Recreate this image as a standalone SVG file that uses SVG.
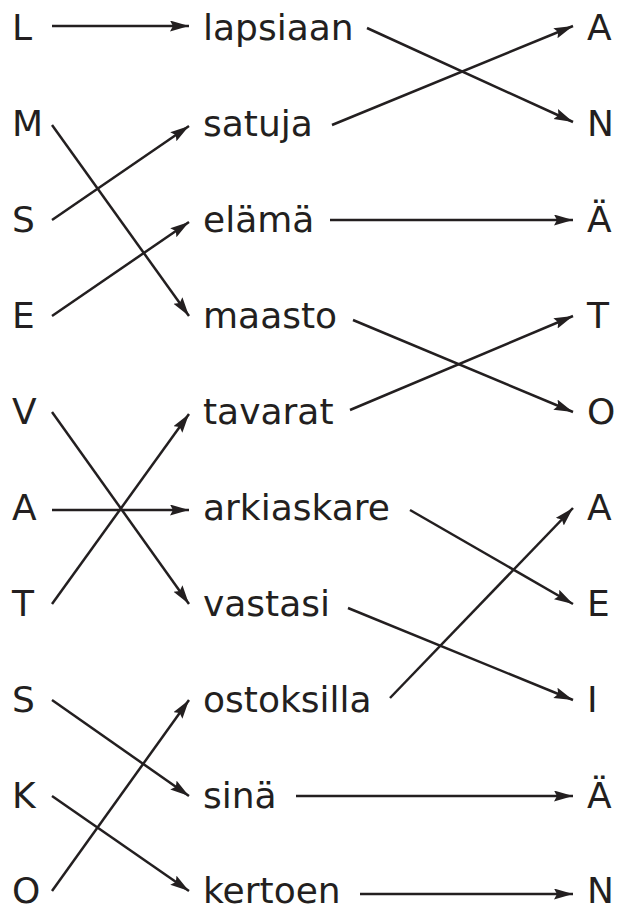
<svg xmlns="http://www.w3.org/2000/svg" width="617" height="910" viewBox="0 0 617 910">
<style>
text{font-family:"DejaVu Sans","Verdana",sans-serif;font-size:36px;fill:#231f20}
.c line{stroke:#231f20;stroke-width:2.5;marker-end:url(#ah)}
</style>
<defs>
<marker id="ah" markerUnits="userSpaceOnUse" markerWidth="20" markerHeight="12" refX="19" refY="5.5" orient="auto">
<path d="M0,0 L19,5.5 L0,11 L3,5.5 z" fill="#231f20"/>
</marker>
</defs>
<rect width="617" height="910" fill="#fff"/>
<g id="left">
<g id="l0"><text x="12" y="40">L</text></g>
<g id="l1"><text x="12" y="136">M</text></g>
<g id="l2"><text x="12" y="232">S</text></g>
<g id="l3"><text x="12" y="328">E</text></g>
<g id="l4"><text x="12" y="424">V</text></g>
<g id="l5"><text x="12" y="520">A</text></g>
<g id="l6"><text x="12" y="616">T</text></g>
<g id="l7"><text x="12" y="712">S</text></g>
<g id="l8"><text x="12" y="808">K</text></g>
<g id="l9"><text x="12" y="903">O</text></g>
</g>
<g id="middle">
<g id="m0"><text x="203" y="40">lapsiaan</text></g>
<g id="m1"><text x="203" y="136">satuja</text></g>
<g id="m2"><text x="203" y="232">elämä</text></g>
<g id="m3"><text x="203" y="328">maasto</text></g>
<g id="m4"><text x="203" y="424">tavarat</text></g>
<g id="m5"><text x="203" y="520">arkiaskare</text></g>
<g id="m6"><text x="203" y="616">vastasi</text></g>
<g id="m7"><text x="203" y="712">ostoksilla</text></g>
<g id="m8"><text x="203" y="808">sinä</text></g>
<g id="m9"><text x="203" y="903">kertoen</text></g>
</g>
<g id="right">
<g id="r0"><text x="587" y="40">A</text></g>
<g id="r1"><text x="587" y="136">N</text></g>
<g id="r2"><text x="587" y="232">Ä</text></g>
<g id="r3"><text x="587" y="328">T</text></g>
<g id="r4"><text x="587" y="424">O</text></g>
<g id="r5"><text x="587" y="520">A</text></g>
<g id="r6"><text x="587" y="616">E</text></g>
<g id="r7"><text x="587" y="712">I</text></g>
<g id="r8"><text x="587" y="808">Ä</text></g>
<g id="r9"><text x="587" y="903">N</text></g>
</g>
<g id="connectors" class="c">
<line x1="52" y1="26" x2="189" y2="26"/>
<line x1="52" y1="125" x2="189" y2="316"/>
<line x1="52" y1="220" x2="189" y2="126"/>
<line x1="52" y1="316" x2="189" y2="222"/>
<line x1="52" y1="412" x2="189" y2="604"/>
<line x1="52" y1="510" x2="189" y2="510"/>
<line x1="52" y1="604" x2="189" y2="414"/>
<line x1="52" y1="700" x2="189" y2="796"/>
<line x1="52" y1="796" x2="189" y2="891"/>
<line x1="52" y1="891" x2="189" y2="700"/>
<line x1="367" y1="28" x2="573" y2="122"/>
<line x1="332" y1="125" x2="573" y2="26"/>
<line x1="330" y1="220" x2="573" y2="220"/>
<line x1="353" y1="320" x2="573" y2="412"/>
<line x1="350" y1="410" x2="573" y2="316"/>
<line x1="410" y1="510" x2="573" y2="604"/>
<line x1="348" y1="608" x2="573" y2="700"/>
<line x1="390" y1="698" x2="573" y2="508"/>
<line x1="296" y1="796" x2="573" y2="796"/>
<line x1="360" y1="894" x2="573" y2="894"/>
</g>
</svg>
